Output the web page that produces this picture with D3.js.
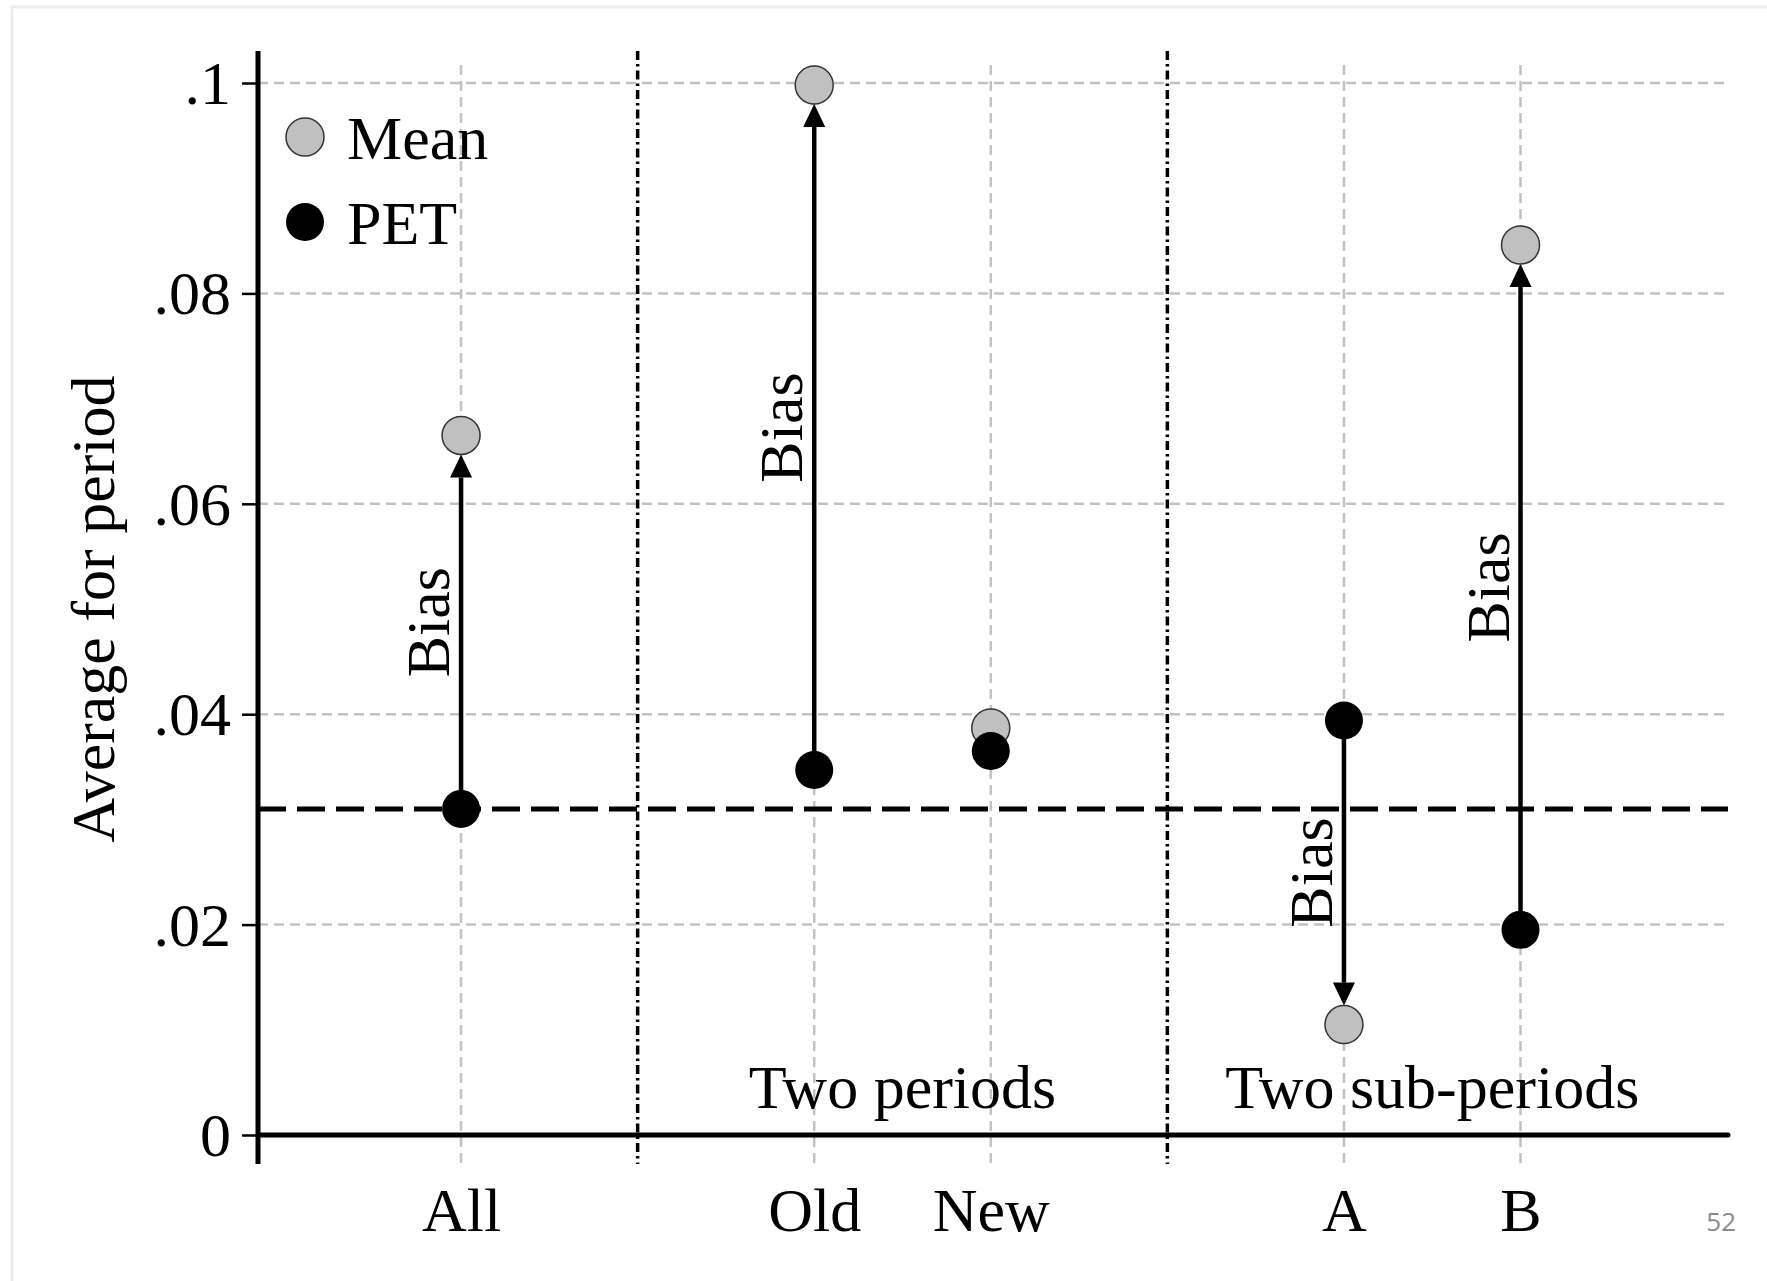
<!DOCTYPE html>
<html>
<head>
<meta charset="UTF-8">
<title>Bias chart</title>
<style>
  body { margin: 0; background: #fff; }
  svg { display: block; }
  text { font-family: "Liberation Serif", "Times New Roman", serif; fill: #000; }
</style>
</head>
<body>
<script src="https://cdn.jsdelivr.net/npm/d3@7"></script>
<script>
// data
const categories = ["All", "Old", "New", "A", "B"];
const positions = [1, 3, 4, 6, 7];
const meanValues = [0.0665, 0.0998, 0.0387, 0.0105, 0.0846];
const petValues = [0.0310, 0.0347, 0.0365, 0.0394, 0.0195];
const hasArrow = [true, true, false, true, true];
const benchmark = 0.031;
const separators = [2, 5];
const groupLabels = ["Two periods", "Two sub-periods"];
const groupCenters = [3.5, 6.5];
const yTickValues = [0, 0.02, 0.04, 0.06, 0.08, 0.1];
const yTickLabels = ["0", ".02", ".04", ".06", ".08", ".1"];

const width = 1767, height = 1281;
const fs = 62;

const svg = d3.select("body").append("svg")
  .attr("width", width)
  .attr("height", height);

// slide frame (faint)
svg.append("path")
  .attr("d", "M12," + height + " L12,7 L" + width + ",7")
  .attr("fill", "none")
  .attr("stroke", "#e6eeee")
  .attr("stroke-width", 3);

const x = d3.scaleLinear().domain([-0.15, 8.175]).range([258, 1728]);
const y = d3.scaleLinear().domain([0, 0.1]).range([1135, 83]);

const gridColor = "#c2c2c2";

// horizontal gridlines
svg.append("g").selectAll("line")
  .data(yTickValues.filter(d => d > 0))
  .join("line")
  .attr("x1", x.range()[0]).attr("x2", x.range()[1])
  .attr("y1", d => y(d)).attr("y2", d => y(d))
  .attr("stroke", gridColor).attr("stroke-width", 2.5)
  .attr("stroke-dasharray", "10,6");

// vertical gridlines
svg.append("g").selectAll("line")
  .data(positions)
  .join("line")
  .attr("x1", d => x(d)).attr("x2", d => x(d))
  .attr("y1", 65).attr("y2", 1164)
  .attr("stroke", gridColor).attr("stroke-width", 2.5)
  .attr("stroke-dasharray", "10,6");

// separators (dash-dot)
svg.append("g").selectAll("line")
  .data(separators)
  .join("line")
  .attr("x1", d => x(d)).attr("x2", d => x(d))
  .attr("y1", 51).attr("y2", 1164)
  .attr("stroke", "#000").attr("stroke-width", 3.5)
  .attr("stroke-dasharray", "9,4,2.5,4");

// benchmark line
svg.append("line")
  .attr("x1", x.range()[0]).attr("x2", x.range()[1])
  .attr("y1", y(benchmark)).attr("y2", y(benchmark))
  .attr("stroke", "#000").attr("stroke-width", 5)
  .attr("stroke-dasharray", "28,11");

// y axis
const yAxis = svg.append("g")
  .attr("transform", "translate(" + x.range()[0] + ",0)")
  .call(d3.axisLeft(y).tickValues(yTickValues)
    .tickFormat((d, i) => yTickLabels[i])
    .tickSize(16).tickSizeOuter(0).tickPadding(11));
yAxis.select(".domain").remove();
yAxis.selectAll(".tick line").attr("stroke", "#000").attr("stroke-width", 2.5);
yAxis.selectAll(".tick text")
  .attr("font-family", "Liberation Serif")
  .attr("font-size", fs).attr("fill", "#000").attr("dy", "0.33em");

svg.append("line")
  .attr("x1", x.range()[0]).attr("x2", x.range()[0])
  .attr("y1", 51).attr("y2", 1164)
  .attr("stroke", "#000").attr("stroke-width", 5);

// x axis
const xAxis = svg.append("g")
  .attr("transform", "translate(0," + y(0) + ")")
  .call(d3.axisBottom(x).tickValues(positions)
    .tickFormat((d, i) => categories[i])
    .tickSize(0).tickSizeOuter(0));
xAxis.select(".domain").remove();
xAxis.selectAll(".tick text")
  .attr("font-family", "Liberation Serif")
  .attr("font-size", fs).attr("fill", "#000")
  .attr("y", 96).attr("dy", 0);

svg.append("line")
  .attr("x1", x.range()[0]).attr("x2", x.range()[1])
  .attr("y1", y(0)).attr("y2", y(0))
  .attr("stroke", "#000").attr("stroke-width", 5)
  .attr("stroke-linecap", "round");

// y axis title
svg.append("text")
  .attr("transform", "translate(" + 114 + "," + y(0.05) + ") rotate(-90)")
  .attr("text-anchor", "middle")
  .attr("font-size", fs)
  .text("Average for period");

// group labels
svg.append("g").selectAll("text")
  .data(groupLabels)
  .join("text")
  .attr("x", (d, i) => x(groupCenters[i]))
  .attr("y", y(0) - 27)
  .attr("text-anchor", "middle")
  .attr("font-size", fs)
  .text(d => d);

// arrows + Bias labels
const r = 19;
const headLen = 23, headW = 11;
const rows = categories.map((c, i) => ({
  c: c, pos: positions[i], mean: meanValues[i], pet: petValues[i], arrow: hasArrow[i]
}));

const arrows = svg.append("g");
rows.filter(d => d.arrow).forEach(d => {
  const cx = x(d.pos);
  const y0 = y(d.pet);
  const y1 = y(d.mean);
  const dir = y1 < y0 ? -1 : 1;
  const tip = y1 - dir * r;
  const base = tip - dir * headLen;
  arrows.append("line")
    .attr("x1", cx).attr("x2", cx)
    .attr("y1", y0).attr("y2", base)
    .attr("stroke", "#000").attr("stroke-width", 4.5);
  arrows.append("path")
    .attr("d", "M" + cx + "," + tip + " L" + (cx - headW) + "," + base + " L" + (cx + headW) + "," + base + " Z")
    .attr("fill", "#000");
  arrows.append("text")
    .attr("transform", "translate(" + (cx - 12) + "," + ((y0 + y1) / 2) + ") rotate(-90)")
    .attr("text-anchor", "middle")
    .attr("font-size", fs)
    .text("Bias");
});

// markers
const marks = svg.append("g");
marks.selectAll("circle.mean")
  .data(rows)
  .join("circle")
  .attr("class", "mean")
  .attr("cx", d => x(d.pos)).attr("cy", d => y(d.mean)).attr("r", r)
  .attr("fill", "#c0c0c0").attr("stroke", "#333").attr("stroke-width", 1.5);
marks.selectAll("circle.pet")
  .data(rows)
  .join("circle")
  .attr("class", "pet")
  .attr("cx", d => x(d.pos)).attr("cy", d => y(d.pet)).attr("r", r)
  .attr("fill", "#000");

// legend
const legendItems = [
  { label: "Mean", fill: "#c0c0c0", stroke: "#333" },
  { label: "PET", fill: "#000", stroke: "none" }
];
const legend = svg.append("g").selectAll("g")
  .data(legendItems)
  .join("g")
  .attr("transform", (d, i) => "translate(305," + (137 + i * 85) + ")");
legend.append("circle")
  .attr("r", r)
  .attr("fill", d => d.fill)
  .attr("stroke", d => d.stroke).attr("stroke-width", 1.5);
legend.append("text")
  .attr("x", 42).attr("dy", "0.35em")
  .attr("font-size", fs)
  .text(d => d.label);

// page number
svg.append("text")
  .attr("x", 1736).attr("y", 1231)
  .attr("text-anchor", "end")
  .attr("font-size", 26)
  .style("fill", "#8a8a8a")
  .style("font-family", "'Open Sans', sans-serif")
  .text("52");
</script>
</body>
</html>
